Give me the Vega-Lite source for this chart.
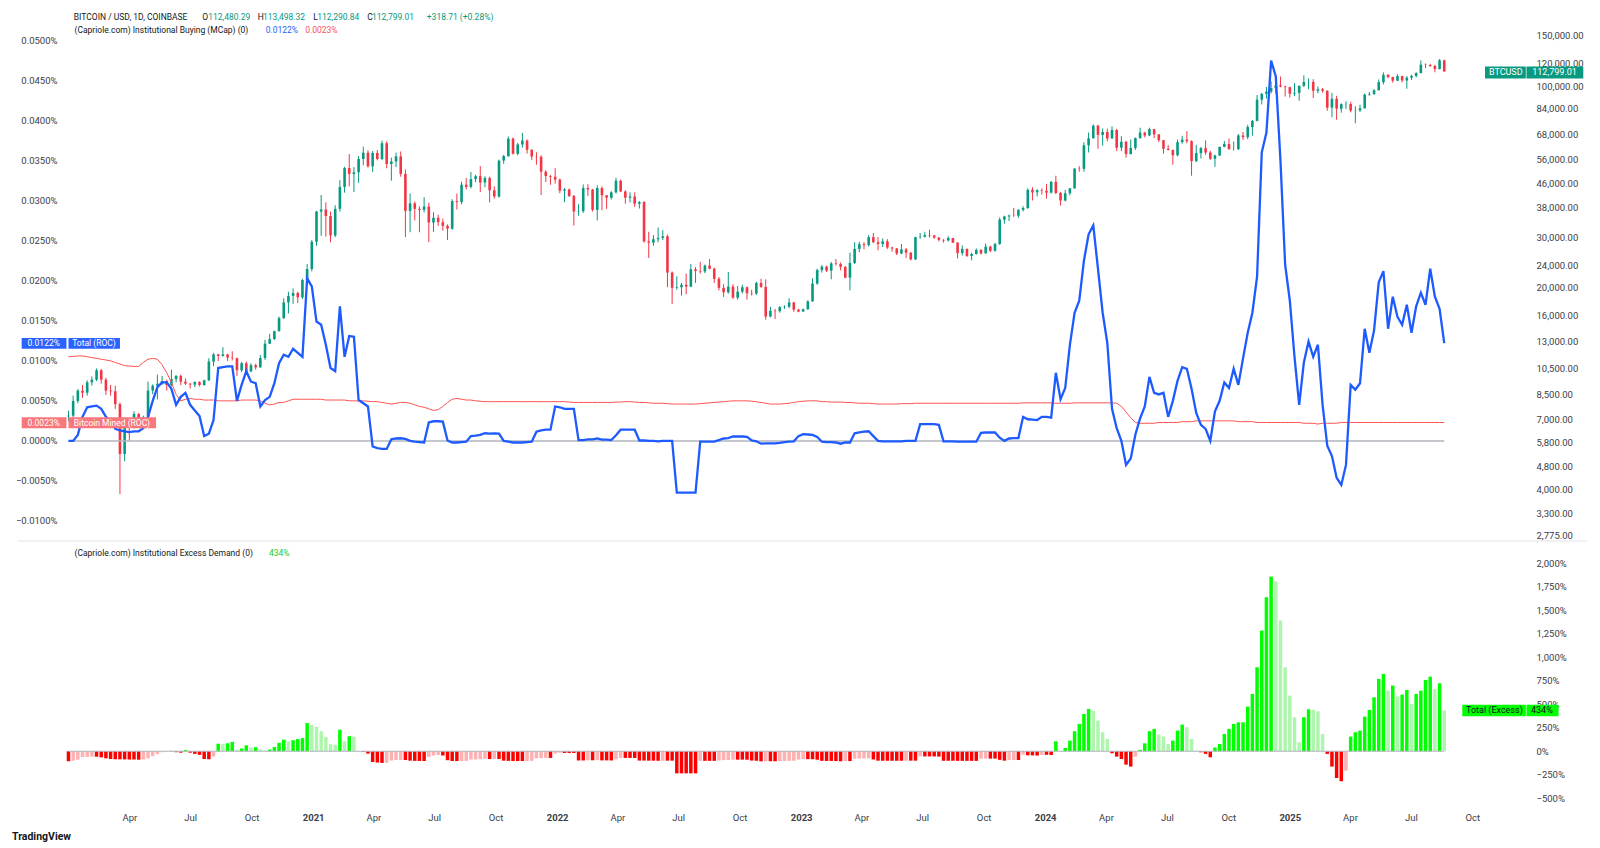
{
  "$schema": "https://vega.github.io/schema/vega-lite/v6.json",
  "background": "white",
  "padding": {"left": 12, "top": 7, "right": 7, "bottom": 4},
  "spacing": 0,
  "config": {
    "view": {"stroke": null},
    "font": "Roboto",
    "axis": {"labelFont": "Roboto", "labelFontSize": 9.5, "labelColor": "#3a3d45", "grid": false, "ticks": false, "domain": false},
    "axisRight": {"labelOverlap": false}
  },
  "title": {"text": "TradingView", "orient": "bottom", "anchor": "start", "fontSize": 10.5, "fontWeight": "bold", "color": "#131722", "offset": 10, "font": "Roboto"},
  "datasets": {
    "w": [
      {"d":"2020-01-01","o":7170,"h":7500,"l":6900,"c":7200,"t":0,"m":0.0105,"e":-106},
      {"d":"2020-01-08","o":7200,"h":8450,"l":7000,"c":8100,"t":0,"m":0.01055,"e":-100},
      {"d":"2020-01-15","o":8100,"h":8900,"l":7950,"c":8800,"t":0.00075,"m":0.0106,"e":-89},
      {"d":"2020-01-22","o":8800,"h":9200,"l":8300,"c":8650,"t":0.003,"m":0.0106,"e":-62},
      {"d":"2020-01-29","o":8650,"h":9550,"l":8450,"c":9400,"t":0.0042,"m":0.0105,"e":-60},
      {"d":"2020-02-05","o":9400,"h":9850,"l":9150,"c":9600,"t":0.0043,"m":0.0104,"e":-58},
      {"d":"2020-02-12","o":9600,"h":10500,"l":9500,"c":10350,"t":0.0044,"m":0.0103,"e":-58},
      {"d":"2020-02-19","o":10350,"h":10450,"l":9300,"c":9600,"t":0.004,"m":0.0102,"e":-65},
      {"d":"2020-02-26","o":9600,"h":9750,"l":8500,"c":8800,"t":0.003,"m":0.0101,"e":-75},
      {"d":"2020-03-04","o":8800,"h":9200,"l":8450,"c":8750,"t":0.0025,"m":0.01,"e":-82},
      {"d":"2020-03-11","o":8750,"h":9150,"l":7600,"c":7900,"t":0.0015,"m":0.0098,"e":-85},
      {"d":"2020-03-18","o":7900,"h":8000,"l":3850,"c":5300,"t":0.0013,"m":0.0096,"e":-86},
      {"d":"2020-03-25","o":5300,"h":6900,"l":5000,"c":6700,"t":0.0012,"m":0.0094,"e":-87},
      {"d":"2020-04-01","o":6700,"h":6950,"l":5900,"c":6650,"t":0.0011,"m":0.00935,"e":-88},
      {"d":"2020-04-08","o":6650,"h":7450,"l":6500,"c":7300,"t":0.0012,"m":0.0093,"e":-88},
      {"d":"2020-04-15","o":7300,"h":7350,"l":6600,"c":6650,"t":0.0012,"m":0.0093,"e":-90},
      {"d":"2020-04-22","o":6650,"h":7200,"l":6550,"c":7100,"t":0.0016,"m":0.0098,"e":-88},
      {"d":"2020-04-29","o":7100,"h":9450,"l":7050,"c":8800,"t":0.003,"m":0.0102,"e":-75},
      {"d":"2020-05-06","o":8800,"h":9250,"l":8550,"c":9150,"t":0.005,"m":0.0103,"e":-53},
      {"d":"2020-05-13","o":9150,"h":10000,"l":8200,"c":9300,"t":0.0067,"m":0.0102,"e":-30},
      {"d":"2020-05-20","o":9300,"h":9900,"l":9200,"c":9500,"t":0.0073,"m":0.0095,"e":-10},
      {"d":"2020-05-27","o":9500,"h":9600,"l":8800,"c":9200,"t":0.0073,"m":0.0085,"e":-3},
      {"d":"2020-06-03","o":9200,"h":10400,"l":9100,"c":9650,"t":0.0065,"m":0.0073,"e":5},
      {"d":"2020-06-10","o":9650,"h":9950,"l":9400,"c":9900,"t":0.0045,"m":0.0058,"e":-10},
      {"d":"2020-06-17","o":9900,"h":10000,"l":9200,"c":9450,"t":0.0055,"m":0.005,"e":-15},
      {"d":"2020-06-24","o":9450,"h":9700,"l":9200,"c":9300,"t":0.006,"m":0.0052,"e":14},
      {"d":"2020-07-01","o":9300,"h":9350,"l":8950,"c":9230,"t":0.0045,"m":0.0053,"e":-15},
      {"d":"2020-07-08","o":9230,"h":9450,"l":9050,"c":9430,"t":0.0038,"m":0.0052,"e":-28},
      {"d":"2020-07-15","o":9430,"h":9480,"l":9100,"c":9200,"t":0.0031,"m":0.0052,"e":-38},
      {"d":"2020-07-22","o":9200,"h":9600,"l":9150,"c":9550,"t":0.0006,"m":0.0051,"e":-82},
      {"d":"2020-07-29","o":9550,"h":11400,"l":9500,"c":11100,"t":0.0009,"m":0.0051,"e":-85},
      {"d":"2020-08-05","o":11100,"h":11900,"l":10700,"c":11750,"t":0.0026,"m":0.0051,"e":-55},
      {"d":"2020-08-12","o":11750,"h":11800,"l":11150,"c":11600,"t":0.0091,"m":0.005,"e":80},
      {"d":"2020-08-19","o":11600,"h":12450,"l":11550,"c":11750,"t":0.0092,"m":0.005,"e":78},
      {"d":"2020-08-26","o":11750,"h":11800,"l":11150,"c":11450,"t":0.0093,"m":0.005,"e":85},
      {"d":"2020-09-02","o":11450,"h":12050,"l":11200,"c":11400,"t":0.0093,"m":0.005,"e":100},
      {"d":"2020-09-09","o":11400,"h":11450,"l":9900,"c":10350,"t":0.005,"m":0.005,"e":14},
      {"d":"2020-09-16","o":10350,"h":11050,"l":10200,"c":10950,"t":0.007,"m":0.0051,"e":30},
      {"d":"2020-09-23","o":10950,"h":11100,"l":10150,"c":10250,"t":0.0087,"m":0.0051,"e":64},
      {"d":"2020-09-30","o":10250,"h":10950,"l":10200,"c":10780,"t":0.0074,"m":0.0051,"e":40},
      {"d":"2020-10-07","o":10780,"h":10900,"l":10400,"c":10600,"t":0.0072,"m":0.0051,"e":43},
      {"d":"2020-10-14","o":10600,"h":11700,"l":10550,"c":11420,"t":0.0043,"m":0.005,"e":20},
      {"d":"2020-10-21","o":11420,"h":13200,"l":11250,"c":12800,"t":0.0051,"m":0.0047,"e":8},
      {"d":"2020-10-28","o":12800,"h":13850,"l":12750,"c":13280,"t":0.0055,"m":0.0045,"e":18},
      {"d":"2020-11-04","o":13280,"h":14200,"l":13200,"c":14150,"t":0.0072,"m":0.0046,"e":45},
      {"d":"2020-11-11","o":14150,"h":15900,"l":14100,"c":15700,"t":0.0097,"m":0.0048,"e":90},
      {"d":"2020-11-18","o":15700,"h":18400,"l":15600,"c":17800,"t":0.01075,"m":0.0048,"e":124},
      {"d":"2020-11-25","o":17800,"h":19400,"l":16300,"c":18750,"t":0.0105,"m":0.005,"e":106},
      {"d":"2020-12-02","o":18750,"h":19900,"l":17600,"c":19200,"t":0.0115,"m":0.0052,"e":118},
      {"d":"2020-12-09","o":19200,"h":19400,"l":17700,"c":18550,"t":0.011,"m":0.0052,"e":130},
      {"d":"2020-12-16","o":18550,"h":21500,"l":18300,"c":21300,"t":0.0105,"m":0.0052,"e":140},
      {"d":"2020-12-23","o":21300,"h":24200,"l":21100,"c":23250,"t":0.0203,"m":0.0052,"e":300},
      {"d":"2020-12-30","o":23250,"h":29300,"l":22800,"c":28900,"t":0.0193,"m":0.0052,"e":280},
      {"d":"2021-01-06","o":28900,"h":37000,"l":28000,"c":36800,"t":0.0149,"m":0.0052,"e":260},
      {"d":"2021-01-13","o":36800,"h":42000,"l":30300,"c":37400,"t":0.0145,"m":0.0052,"e":213},
      {"d":"2021-01-20","o":37400,"h":39600,"l":30100,"c":35500,"t":0.012,"m":0.0051,"e":150},
      {"d":"2021-01-27","o":35500,"h":36800,"l":28800,"c":30400,"t":0.0091,"m":0.0051,"e":75},
      {"d":"2021-02-03","o":30400,"h":38700,"l":30000,"c":37600,"t":0.0087,"m":0.0051,"e":70},
      {"d":"2021-02-10","o":37600,"h":47300,"l":36800,"c":44800,"t":0.0168,"m":0.0051,"e":230},
      {"d":"2021-02-17","o":44800,"h":52600,"l":42800,"c":52100,"t":0.0105,"m":0.0051,"e":106},
      {"d":"2021-02-24","o":52100,"h":58300,"l":45000,"c":49700,"t":0.0131,"m":0.005,"e":160},
      {"d":"2021-03-03","o":49700,"h":52500,"l":43000,"c":50400,"t":0.013,"m":0.005,"e":155},
      {"d":"2021-03-10","o":50400,"h":57300,"l":46300,"c":56000,"t":0.0051,"m":0.005,"e":2},
      {"d":"2021-03-17","o":56000,"h":61800,"l":53300,"c":58900,"t":0.0047,"m":0.005,"e":-7},
      {"d":"2021-03-24","o":58900,"h":60000,"l":52300,"c":52800,"t":0.0043,"m":0.00495,"e":-25},
      {"d":"2021-03-31","o":52800,"h":59700,"l":50500,"c":58800,"t":-0.0007,"m":0.0049,"e":-114},
      {"d":"2021-04-07","o":58800,"h":60200,"l":55400,"c":56000,"t":-0.0009,"m":0.0049,"e":-120},
      {"d":"2021-04-14","o":56000,"h":64900,"l":55500,"c":63500,"t":-0.001,"m":0.0048,"e":-124},
      {"d":"2021-04-21","o":63500,"h":64500,"l":52000,"c":53800,"t":-0.001,"m":0.0047,"e":-122},
      {"d":"2021-04-28","o":53800,"h":56600,"l":47100,"c":54900,"t":0.0002,"m":0.0046,"e":-98},
      {"d":"2021-05-05","o":54900,"h":58900,"l":52500,"c":57200,"t":0.0003,"m":0.0047,"e":-93},
      {"d":"2021-05-12","o":57200,"h":59500,"l":48600,"c":49700,"t":0.00033,"m":0.0048,"e":-92},
      {"d":"2021-05-19","o":49700,"h":51500,"l":30000,"c":37000,"t":0.00025,"m":0.0048,"e":-93},
      {"d":"2021-05-26","o":37000,"h":42500,"l":31200,"c":39300,"t":0,"m":0.0047,"e":-100},
      {"d":"2021-06-02","o":39300,"h":39900,"l":34300,"c":37600,"t":-0.0001,"m":0.0045,"e":-102},
      {"d":"2021-06-09","o":37600,"h":38400,"l":31200,"c":37300,"t":-0.00015,"m":0.0043,"e":-103},
      {"d":"2021-06-16","o":37300,"h":41300,"l":36500,"c":38300,"t":-0.0002,"m":0.0042,"e":-104},
      {"d":"2021-06-23","o":38300,"h":39500,"l":28800,"c":33700,"t":0.0023,"m":0.004,"e":-60},
      {"d":"2021-06-30","o":33700,"h":36600,"l":31300,"c":35000,"t":0.00245,"m":0.0038,"e":-45},
      {"d":"2021-07-07","o":35000,"h":35900,"l":32800,"c":33800,"t":0.00245,"m":0.0039,"e":-40},
      {"d":"2021-07-14","o":33800,"h":34800,"l":31600,"c":32800,"t":0.0024,"m":0.0043,"e":-45},
      {"d":"2021-07-21","o":32800,"h":33200,"l":29300,"c":32100,"t":0.00005,"m":0.0048,"e":-95},
      {"d":"2021-07-28","o":32100,"h":40600,"l":31800,"c":40000,"t":-0.0002,"m":0.0052,"e":-104},
      {"d":"2021-08-04","o":40000,"h":42500,"l":37400,"c":39700,"t":-0.0002,"m":0.0053,"e":-104},
      {"d":"2021-08-11","o":39700,"h":46700,"l":39000,"c":45600,"t":-0.00015,"m":0.0052,"e":-103},
      {"d":"2021-08-18","o":45600,"h":48100,"l":43900,"c":44800,"t":-0.0001,"m":0.0051,"e":-102},
      {"d":"2021-08-25","o":44800,"h":50500,"l":44300,"c":47700,"t":0.0006,"m":0.0051,"e":-88},
      {"d":"2021-09-01","o":47700,"h":49400,"l":46500,"c":48800,"t":0.00065,"m":0.005,"e":-87},
      {"d":"2021-09-08","o":48800,"h":52900,"l":43000,"c":46400,"t":0.00075,"m":0.00495,"e":-85},
      {"d":"2021-09-15","o":46400,"h":48800,"l":44700,"c":48100,"t":0.00095,"m":0.0049,"e":-80},
      {"d":"2021-09-22","o":48100,"h":48600,"l":39600,"c":43600,"t":0.0009,"m":0.0049,"e":-82},
      {"d":"2021-09-29","o":43600,"h":45000,"l":40800,"c":41500,"t":0.00095,"m":0.0049,"e":-81},
      {"d":"2021-10-06","o":41500,"h":55700,"l":41100,"c":55300,"t":0.0009,"m":0.0049,"e":-82},
      {"d":"2021-10-13","o":55300,"h":57900,"l":53900,"c":57300,"t":0,"m":0.0049,"e":-100},
      {"d":"2021-10-20","o":57300,"h":67000,"l":57000,"c":65900,"t":-0.0001,"m":0.0049,"e":-102},
      {"d":"2021-10-27","o":65900,"h":66500,"l":58000,"c":58400,"t":-0.0002,"m":0.0049,"e":-104},
      {"d":"2021-11-03","o":58400,"h":63700,"l":57700,"c":62900,"t":-0.0002,"m":0.0049,"e":-104},
      {"d":"2021-11-10","o":62900,"h":69000,"l":61300,"c":64900,"t":-0.0002,"m":0.0049,"e":-104},
      {"d":"2021-11-17","o":64900,"h":65500,"l":58500,"c":60300,"t":-0.00015,"m":0.0049,"e":-103},
      {"d":"2021-11-24","o":60300,"h":60500,"l":55600,"c":57100,"t":-0.0001,"m":0.0049,"e":-102},
      {"d":"2021-12-01","o":57100,"h":59100,"l":53500,"c":57000,"t":0.00115,"m":0.0049,"e":-76},
      {"d":"2021-12-08","o":57000,"h":57700,"l":42000,"c":50600,"t":0.0013,"m":0.0049,"e":-73},
      {"d":"2021-12-15","o":50600,"h":51200,"l":46600,"c":48900,"t":0.0014,"m":0.0049,"e":-71},
      {"d":"2021-12-22","o":48900,"h":49300,"l":45600,"c":48600,"t":0.0014,"m":0.0049,"e":-71},
      {"d":"2021-12-29","o":48600,"h":52000,"l":46000,"c":47500,"t":0.0043,"m":0.0049,"e":-25},
      {"d":"2022-01-05","o":47500,"h":47900,"l":42600,"c":43500,"t":0.0042,"m":0.0049,"e":-15},
      {"d":"2022-01-12","o":43500,"h":44400,"l":39700,"c":43900,"t":0.004,"m":0.0049,"e":-18},
      {"d":"2022-01-19","o":43900,"h":44200,"l":41300,"c":41700,"t":0.004,"m":0.00485,"e":-18},
      {"d":"2022-01-26","o":41700,"h":42000,"l":32900,"c":36800,"t":0.004,"m":0.0048,"e":-18},
      {"d":"2022-02-02","o":36800,"h":39000,"l":35600,"c":36900,"t":0.0001,"m":0.0048,"e":-98},
      {"d":"2022-02-09","o":36900,"h":45700,"l":36400,"c":44400,"t":0.0001,"m":0.0048,"e":-98},
      {"d":"2022-02-16","o":44400,"h":45800,"l":41700,"c":43900,"t":0.0002,"m":0.0048,"e":-96},
      {"d":"2022-02-23","o":43900,"h":44100,"l":36800,"c":37300,"t":0.0002,"m":0.0048,"e":-96},
      {"d":"2022-03-02","o":37300,"h":45400,"l":34300,"c":44400,"t":0.0003,"m":0.0048,"e":-94},
      {"d":"2022-03-09","o":44400,"h":45000,"l":37200,"c":41900,"t":0.00015,"m":0.0048,"e":-97},
      {"d":"2022-03-16","o":41900,"h":42000,"l":37600,"c":41100,"t":0.00015,"m":0.0048,"e":-97},
      {"d":"2022-03-23","o":41100,"h":43300,"l":40500,"c":42900,"t":0.0001,"m":0.0048,"e":-98},
      {"d":"2022-03-30","o":42900,"h":48200,"l":42500,"c":47100,"t":0.0007,"m":0.00485,"e":-86},
      {"d":"2022-04-06","o":47100,"h":47500,"l":43000,"c":43200,"t":0.0014,"m":0.00485,"e":-71},
      {"d":"2022-04-13","o":43200,"h":43600,"l":39200,"c":41100,"t":0.0014,"m":0.0049,"e":-71},
      {"d":"2022-04-20","o":41100,"h":42900,"l":39600,"c":41500,"t":0.0014,"m":0.0049,"e":-71},
      {"d":"2022-04-27","o":41500,"h":42900,"l":38200,"c":39200,"t":0.0014,"m":0.00485,"e":-71},
      {"d":"2022-05-04","o":39200,"h":40000,"l":37700,"c":39700,"t":0.00005,"m":0.0048,"e":-99},
      {"d":"2022-05-11","o":39700,"h":40000,"l":28700,"c":29000,"t":0.00005,"m":0.0048,"e":-99},
      {"d":"2022-05-18","o":29000,"h":31300,"l":25400,"c":28700,"t":0,"m":0.00475,"e":-100},
      {"d":"2022-05-25","o":28700,"h":30500,"l":28000,"c":29500,"t":0,"m":0.0047,"e":-100},
      {"d":"2022-06-01","o":29500,"h":32400,"l":28800,"c":29800,"t":-0.00005,"m":0.0047,"e":-101},
      {"d":"2022-06-08","o":29800,"h":31700,"l":29300,"c":30200,"t":0,"m":0.0047,"e":-100},
      {"d":"2022-06-15","o":30200,"h":30600,"l":20100,"c":22600,"t":0,"m":0.00465,"e":-100},
      {"d":"2022-06-22","o":22600,"h":22800,"l":17600,"c":20000,"t":0,"m":0.0046,"e":-100},
      {"d":"2022-06-29","o":20000,"h":21900,"l":19700,"c":20100,"t":-0.00645,"m":0.0046,"e":-235},
      {"d":"2022-07-06","o":20100,"h":20800,"l":18800,"c":20500,"t":-0.00645,"m":0.0046,"e":-235},
      {"d":"2022-07-13","o":20500,"h":22400,"l":19000,"c":20200,"t":-0.00645,"m":0.0046,"e":-235},
      {"d":"2022-07-20","o":20200,"h":24200,"l":20100,"c":23200,"t":-0.00645,"m":0.0046,"e":-235},
      {"d":"2022-07-27","o":23200,"h":23600,"l":20800,"c":22900,"t":-0.00645,"m":0.0046,"e":-235},
      {"d":"2022-08-03","o":22900,"h":24600,"l":22400,"c":22800,"t":-0.0001,"m":0.00465,"e":-102},
      {"d":"2022-08-10","o":22800,"h":24100,"l":22500,"c":23900,"t":-0.0001,"m":0.0047,"e":-102},
      {"d":"2022-08-17","o":23900,"h":25200,"l":23200,"c":23300,"t":-0.0001,"m":0.00475,"e":-102},
      {"d":"2022-08-24","o":23300,"h":23500,"l":20800,"c":21500,"t":-0.0001,"m":0.0048,"e":-102},
      {"d":"2022-08-31","o":21500,"h":21800,"l":19600,"c":20000,"t":0.0001,"m":0.00485,"e":-98},
      {"d":"2022-09-07","o":20000,"h":20600,"l":18600,"c":19300,"t":0.0003,"m":0.0049,"e":-94},
      {"d":"2022-09-14","o":19300,"h":22700,"l":19100,"c":20200,"t":0.00035,"m":0.00495,"e":-93},
      {"d":"2022-09-21","o":20200,"h":20600,"l":18300,"c":18500,"t":0.00055,"m":0.005,"e":-89},
      {"d":"2022-09-28","o":18500,"h":20300,"l":18200,"c":19400,"t":0.00055,"m":0.005,"e":-89},
      {"d":"2022-10-05","o":19400,"h":20500,"l":19100,"c":20100,"t":0.00055,"m":0.005,"e":-89},
      {"d":"2022-10-12","o":20100,"h":20200,"l":18200,"c":19150,"t":0.0005,"m":0.005,"e":-90},
      {"d":"2022-10-19","o":19150,"h":19700,"l":18800,"c":19100,"t":0.00005,"m":0.00495,"e":-99},
      {"d":"2022-10-26","o":19100,"h":21000,"l":18900,"c":20800,"t":-0.00005,"m":0.0049,"e":-101},
      {"d":"2022-11-02","o":20800,"h":21500,"l":20000,"c":20150,"t":-0.00035,"m":0.0048,"e":-107},
      {"d":"2022-11-09","o":20150,"h":21400,"l":15500,"c":15900,"t":-0.0003,"m":0.0047,"e":-106},
      {"d":"2022-11-16","o":15900,"h":17200,"l":15800,"c":16650,"t":-0.0003,"m":0.0046,"e":-106},
      {"d":"2022-11-23","o":16650,"h":16900,"l":15600,"c":16600,"t":-0.0003,"m":0.0046,"e":-106},
      {"d":"2022-11-30","o":16600,"h":17300,"l":16400,"c":17150,"t":-0.00025,"m":0.0046,"e":-105},
      {"d":"2022-12-07","o":17150,"h":17400,"l":16900,"c":17200,"t":-0.00015,"m":0.00465,"e":-103},
      {"d":"2022-12-14","o":17200,"h":18400,"l":17000,"c":17800,"t":-0.0001,"m":0.0047,"e":-102},
      {"d":"2022-12-21","o":17800,"h":17900,"l":16500,"c":16800,"t":-0.00005,"m":0.0048,"e":-101},
      {"d":"2022-12-28","o":16800,"h":16900,"l":16450,"c":16550,"t":0.0006,"m":0.0049,"e":-88},
      {"d":"2023-01-04","o":16550,"h":16950,"l":16500,"c":16850,"t":0.00085,"m":0.00495,"e":-83},
      {"d":"2023-01-11","o":16850,"h":18100,"l":16800,"c":17950,"t":0.0008,"m":0.005,"e":-84},
      {"d":"2023-01-18","o":17950,"h":21600,"l":17900,"c":20700,"t":0.00075,"m":0.005,"e":-85},
      {"d":"2023-01-25","o":20700,"h":23300,"l":20500,"c":23050,"t":0.0005,"m":0.005,"e":-90},
      {"d":"2023-02-01","o":23050,"h":24000,"l":22600,"c":23700,"t":-0.0001,"m":0.0049,"e":-102},
      {"d":"2023-02-08","o":23700,"h":23900,"l":22700,"c":22950,"t":-0.00015,"m":0.0049,"e":-103},
      {"d":"2023-02-15","o":22950,"h":24600,"l":21400,"c":24300,"t":-0.00015,"m":0.00485,"e":-103},
      {"d":"2023-02-22","o":24300,"h":25200,"l":23900,"c":24200,"t":-0.0002,"m":0.00485,"e":-104},
      {"d":"2023-03-01","o":24200,"h":24500,"l":23000,"c":23650,"t":-0.00035,"m":0.00485,"e":-107},
      {"d":"2023-03-08","o":23650,"h":23800,"l":21600,"c":21700,"t":-0.0002,"m":0.0048,"e":-104},
      {"d":"2023-03-15","o":21700,"h":26500,"l":19600,"c":24400,"t":-0.0002,"m":0.0048,"e":-104},
      {"d":"2023-03-22","o":24400,"h":28800,"l":24200,"c":27300,"t":0.00095,"m":0.00475,"e":-80},
      {"d":"2023-03-29","o":27300,"h":28900,"l":26600,"c":28350,"t":0.00105,"m":0.0047,"e":-78},
      {"d":"2023-04-05","o":28350,"h":28800,"l":27200,"c":28150,"t":0.00115,"m":0.0047,"e":-76},
      {"d":"2023-04-12","o":28150,"h":30500,"l":27800,"c":30000,"t":0.0012,"m":0.0047,"e":-75},
      {"d":"2023-04-19","o":30000,"h":31000,"l":28600,"c":28800,"t":0.0006,"m":0.00465,"e":-87},
      {"d":"2023-04-26","o":28800,"h":30000,"l":27000,"c":28400,"t":0,"m":0.0046,"e":-100},
      {"d":"2023-05-03","o":28400,"h":29700,"l":27700,"c":29000,"t":-0.00005,"m":0.0046,"e":-101},
      {"d":"2023-05-10","o":29000,"h":29500,"l":27300,"c":27600,"t":-0.00005,"m":0.0046,"e":-101},
      {"d":"2023-05-17","o":27600,"h":27800,"l":26700,"c":27400,"t":-0.00005,"m":0.0046,"e":-101},
      {"d":"2023-05-24","o":27400,"h":27500,"l":26000,"c":26300,"t":-0.00005,"m":0.0046,"e":-101},
      {"d":"2023-05-31","o":26300,"h":28400,"l":26200,"c":27200,"t":-0.00005,"m":0.00465,"e":-101},
      {"d":"2023-06-07","o":27200,"h":27500,"l":25400,"c":26500,"t":0,"m":0.00465,"e":-100},
      {"d":"2023-06-14","o":26500,"h":26600,"l":24900,"c":25100,"t":0,"m":0.00465,"e":-100},
      {"d":"2023-06-21","o":25100,"h":30100,"l":25000,"c":30000,"t":0,"m":0.0047,"e":-100},
      {"d":"2023-06-28","o":30000,"h":31000,"l":29600,"c":30100,"t":0.0021,"m":0.0047,"e":-55},
      {"d":"2023-07-05","o":30100,"h":31300,"l":29900,"c":30500,"t":0.0021,"m":0.0047,"e":-55},
      {"d":"2023-07-12","o":30500,"h":31800,"l":29900,"c":30400,"t":0.0021,"m":0.0047,"e":-55},
      {"d":"2023-07-19","o":30400,"h":30500,"l":29600,"c":29900,"t":0.0021,"m":0.0047,"e":-55},
      {"d":"2023-07-26","o":29900,"h":30000,"l":29000,"c":29350,"t":0.002,"m":0.0047,"e":-57},
      {"d":"2023-08-02","o":29350,"h":29500,"l":28700,"c":29200,"t":-0.00005,"m":0.0047,"e":-101},
      {"d":"2023-08-09","o":29200,"h":30200,"l":29000,"c":29800,"t":-0.00005,"m":0.0047,"e":-101},
      {"d":"2023-08-16","o":29800,"h":29800,"l":28600,"c":28700,"t":-0.00005,"m":0.0047,"e":-101},
      {"d":"2023-08-23","o":28700,"h":28800,"l":25300,"c":26400,"t":-0.0001,"m":0.0047,"e":-102},
      {"d":"2023-08-30","o":26400,"h":28100,"l":25900,"c":27300,"t":-0.0001,"m":0.0047,"e":-102},
      {"d":"2023-09-06","o":27300,"h":27400,"l":25600,"c":25800,"t":-0.0001,"m":0.0047,"e":-102},
      {"d":"2023-09-13","o":25800,"h":26500,"l":24900,"c":26200,"t":-0.0001,"m":0.0047,"e":-102},
      {"d":"2023-09-20","o":26200,"h":27400,"l":26100,"c":27100,"t":-0.0001,"m":0.0047,"e":-102},
      {"d":"2023-09-27","o":27100,"h":27200,"l":26100,"c":26350,"t":0.001,"m":0.0047,"e":-79},
      {"d":"2023-10-04","o":26350,"h":28500,"l":26300,"c":27800,"t":0.00105,"m":0.0047,"e":-78},
      {"d":"2023-10-11","o":27800,"h":28000,"l":26600,"c":26900,"t":0.00105,"m":0.0047,"e":-78},
      {"d":"2023-10-18","o":26900,"h":28700,"l":26700,"c":28400,"t":0.00105,"m":0.0047,"e":-78},
      {"d":"2023-10-25","o":28400,"h":35100,"l":28200,"c":34500,"t":0.0004,"m":0.0047,"e":-91},
      {"d":"2023-11-01","o":34500,"h":35600,"l":33400,"c":35400,"t":0,"m":0.0047,"e":-100},
      {"d":"2023-11-08","o":35400,"h":35900,"l":34100,"c":35650,"t":0.0003,"m":0.0047,"e":-94},
      {"d":"2023-11-15","o":35650,"h":37900,"l":35300,"c":35600,"t":0.00035,"m":0.0047,"e":-93},
      {"d":"2023-11-22","o":35600,"h":37500,"l":35000,"c":37300,"t":0.00035,"m":0.0047,"e":-93},
      {"d":"2023-11-29","o":37300,"h":38400,"l":36800,"c":37850,"t":0.003,"m":0.00475,"e":-37},
      {"d":"2023-12-06","o":37850,"h":44300,"l":37600,"c":43800,"t":0.0027,"m":0.00475,"e":-43},
      {"d":"2023-12-13","o":43800,"h":44700,"l":40200,"c":42900,"t":0.00265,"m":0.00475,"e":-44},
      {"d":"2023-12-20","o":42900,"h":44000,"l":41500,"c":43650,"t":0.0026,"m":0.00475,"e":-46},
      {"d":"2023-12-27","o":43650,"h":44300,"l":42100,"c":43450,"t":0.003,"m":0.00475,"e":-38},
      {"d":"2024-01-03","o":43450,"h":45900,"l":40800,"c":42800,"t":0.003,"m":0.00475,"e":-38},
      {"d":"2024-01-10","o":42800,"h":47000,"l":42500,"c":46650,"t":0.0029,"m":0.00475,"e":-40},
      {"d":"2024-01-17","o":46650,"h":49000,"l":42300,"c":42700,"t":0.0085,"m":0.0047,"e":106},
      {"d":"2024-01-24","o":42700,"h":43100,"l":38600,"c":40200,"t":0.0052,"m":0.0047,"e":5},
      {"d":"2024-01-31","o":40200,"h":43800,"l":39900,"c":42600,"t":0.0066,"m":0.0047,"e":35},
      {"d":"2024-02-07","o":42600,"h":44400,"l":41900,"c":44300,"t":0.012,"m":0.0047,"e":113},
      {"d":"2024-02-14","o":44300,"h":52000,"l":44200,"c":51900,"t":0.016,"m":0.00475,"e":213},
      {"d":"2024-02-21","o":51900,"h":52900,"l":50600,"c":51800,"t":0.0175,"m":0.00475,"e":291},
      {"d":"2024-02-28","o":51800,"h":64000,"l":50600,"c":62500,"t":0.0225,"m":0.00475,"e":397},
      {"d":"2024-03-06","o":62500,"h":69200,"l":59000,"c":66100,"t":0.0258,"m":0.00475,"e":450},
      {"d":"2024-03-13","o":66100,"h":73800,"l":66000,"c":73100,"t":0.0269,"m":0.00475,"e":433},
      {"d":"2024-03-20","o":73100,"h":73600,"l":60800,"c":67900,"t":0.0215,"m":0.00475,"e":326},
      {"d":"2024-03-27","o":67900,"h":71500,"l":62300,"c":69500,"t":0.016,"m":0.00475,"e":202},
      {"d":"2024-04-03","o":69500,"h":71400,"l":64500,"c":66000,"t":0.0122,"m":0.00475,"e":131},
      {"d":"2024-04-10","o":66000,"h":72700,"l":65900,"c":70600,"t":0.004,"m":0.00475,"e":-21},
      {"d":"2024-04-17","o":70600,"h":71200,"l":59700,"c":61300,"t":0.0016,"m":0.0047,"e":-57},
      {"d":"2024-04-24","o":61300,"h":67200,"l":59600,"c":64300,"t":0,"m":0.0043,"e":-82},
      {"d":"2024-05-01","o":64300,"h":64700,"l":56600,"c":58300,"t":-0.003,"m":0.0036,"e":-142},
      {"d":"2024-05-08","o":58300,"h":65400,"l":58100,"c":61200,"t":-0.0022,"m":0.0029,"e":-163},
      {"d":"2024-05-15","o":61200,"h":66500,"l":60200,"c":66200,"t":0.0008,"m":0.0023,"e":-57},
      {"d":"2024-05-22","o":66200,"h":71900,"l":65800,"c":69200,"t":0.0028,"m":0.0022,"e":15},
      {"d":"2024-05-29","o":69200,"h":69600,"l":66600,"c":67600,"t":0.0043,"m":0.0022,"e":85},
      {"d":"2024-06-05","o":67600,"h":71900,"l":67200,"c":71100,"t":0.008,"m":0.0022,"e":213},
      {"d":"2024-06-12","o":71100,"h":71300,"l":66100,"c":68200,"t":0.006,"m":0.0022,"e":238},
      {"d":"2024-06-19","o":68200,"h":68400,"l":64100,"c":65100,"t":0.0058,"m":0.0023,"e":177},
      {"d":"2024-06-26","o":65100,"h":65200,"l":58400,"c":60800,"t":0.006,"m":0.0023,"e":156},
      {"d":"2024-07-03","o":60800,"h":62700,"l":59900,"c":60200,"t":0.003,"m":0.0023,"e":78},
      {"d":"2024-07-10","o":60200,"h":60400,"l":53500,"c":57700,"t":0.005,"m":0.0023,"e":113},
      {"d":"2024-07-17","o":57700,"h":65400,"l":57200,"c":64100,"t":0.0075,"m":0.0023,"e":220},
      {"d":"2024-07-24","o":64100,"h":67400,"l":63300,"c":65400,"t":0.0092,"m":0.0024,"e":284},
      {"d":"2024-07-31","o":65400,"h":70000,"l":63500,"c":64600,"t":0.009,"m":0.0024,"e":255},
      {"d":"2024-08-07","o":64600,"h":65000,"l":49000,"c":55100,"t":0.0065,"m":0.0024,"e":131},
      {"d":"2024-08-14","o":55100,"h":62700,"l":54600,"c":58700,"t":0.0035,"m":0.0025,"e":7},
      {"d":"2024-08-21","o":58700,"h":61700,"l":56200,"c":61100,"t":0.002,"m":0.0025,"e":-11},
      {"d":"2024-08-28","o":61100,"h":65000,"l":57900,"c":59000,"t":0.0015,"m":0.0025,"e":-28},
      {"d":"2024-09-04","o":59000,"h":59800,"l":55600,"c":56100,"t":0,"m":0.0025,"e":-64},
      {"d":"2024-09-11","o":56100,"h":58000,"l":52600,"c":57600,"t":0.0037,"m":0.0025,"e":40},
      {"d":"2024-09-18","o":57600,"h":61800,"l":57400,"c":61700,"t":0.005,"m":0.0025,"e":78},
      {"d":"2024-09-25","o":61700,"h":64700,"l":61500,"c":63100,"t":0.0073,"m":0.0025,"e":184},
      {"d":"2024-10-02","o":63100,"h":66000,"l":60300,"c":60600,"t":0.0066,"m":0.0025,"e":238},
      {"d":"2024-10-09","o":60600,"h":64400,"l":59900,"c":60600,"t":0.009,"m":0.0025,"e":291},
      {"d":"2024-10-16","o":60600,"h":68400,"l":60200,"c":67600,"t":0.007,"m":0.0024,"e":308},
      {"d":"2024-10-23","o":67600,"h":69500,"l":65300,"c":66700,"t":0.0103,"m":0.0024,"e":308},
      {"d":"2024-10-30","o":66700,"h":73600,"l":65600,"c":72300,"t":0.0135,"m":0.0024,"e":475},
      {"d":"2024-11-06","o":72300,"h":76500,"l":67500,"c":75900,"t":0.016,"m":0.0024,"e":610},
      {"d":"2024-11-13","o":75900,"h":93400,"l":75700,"c":90000,"t":0.0205,"m":0.0023,"e":894},
      {"d":"2024-11-20","o":90000,"h":94900,"l":86600,"c":94300,"t":0.036,"m":0.0023,"e":1284},
      {"d":"2024-11-27","o":94300,"h":99600,"l":90800,"c":96000,"t":0.0385,"m":0.0023,"e":1638},
      {"d":"2024-12-04","o":96000,"h":104000,"l":94600,"c":98700,"t":0.0475,"m":0.0023,"e":1858},
      {"d":"2024-12-11","o":98700,"h":102500,"l":94300,"c":101000,"t":0.0455,"m":0.0023,"e":1808},
      {"d":"2024-12-18","o":101000,"h":108300,"l":99300,"c":100000,"t":0.035,"m":0.0023,"e":1390},
      {"d":"2024-12-25","o":100000,"h":100500,"l":92200,"c":99400,"t":0.022,"m":0.0023,"e":894},
      {"d":"2025-01-01","o":99400,"h":99900,"l":91500,"c":94400,"t":0.0175,"m":0.0023,"e":592},
      {"d":"2025-01-08","o":94400,"h":102700,"l":92500,"c":95000,"t":0.0105,"m":0.0023,"e":362},
      {"d":"2025-01-15","o":95000,"h":100700,"l":89200,"c":100500,"t":0.0045,"m":0.0023,"e":96},
      {"d":"2025-01-22","o":100500,"h":109300,"l":99500,"c":103700,"t":0.0098,"m":0.0022,"e":362},
      {"d":"2025-01-29","o":103700,"h":106500,"l":97800,"c":103700,"t":0.0124,"m":0.0022,"e":447},
      {"d":"2025-02-05","o":103700,"h":106000,"l":91200,"c":96600,"t":0.0105,"m":0.0022,"e":440},
      {"d":"2025-02-12","o":96600,"h":100000,"l":94800,"c":97800,"t":0.012,"m":0.0021,"e":425},
      {"d":"2025-02-19","o":97800,"h":98800,"l":95200,"c":96600,"t":0.0045,"m":0.0022,"e":184},
      {"d":"2025-02-26","o":96600,"h":96900,"l":82300,"c":84400,"t":-0.0006,"m":0.0022,"e":-28},
      {"d":"2025-03-05","o":84400,"h":95000,"l":78200,"c":90600,"t":-0.0019,"m":0.0022,"e":-163},
      {"d":"2025-03-12","o":90600,"h":92800,"l":76600,"c":83700,"t":-0.0046,"m":0.0022,"e":-284},
      {"d":"2025-03-19","o":83700,"h":87400,"l":81100,"c":86800,"t":-0.0055,"m":0.0023,"e":-319},
      {"d":"2025-03-26","o":86800,"h":88800,"l":83600,"c":86900,"t":-0.003,"m":0.0023,"e":-206},
      {"d":"2025-04-02","o":86900,"h":88500,"l":81300,"c":82500,"t":0.007,"m":0.0023,"e":156},
      {"d":"2025-04-09","o":82500,"h":85400,"l":74500,"c":82600,"t":0.0064,"m":0.0023,"e":202},
      {"d":"2025-04-16","o":82600,"h":86400,"l":81600,"c":84000,"t":0.0072,"m":0.0023,"e":220},
      {"d":"2025-04-23","o":84000,"h":94500,"l":83800,"c":93700,"t":0.014,"m":0.0023,"e":369},
      {"d":"2025-04-30","o":93700,"h":95700,"l":92900,"c":94200,"t":0.011,"m":0.0023,"e":440},
      {"d":"2025-05-07","o":94200,"h":97800,"l":93400,"c":97000,"t":0.0138,"m":0.0023,"e":574},
      {"d":"2025-05-14","o":97000,"h":105700,"l":96900,"c":103500,"t":0.0198,"m":0.0023,"e":770},
      {"d":"2025-05-21","o":103500,"h":111900,"l":101600,"c":109700,"t":0.0212,"m":0.0023,"e":823},
      {"d":"2025-05-28","o":109700,"h":110400,"l":106800,"c":107800,"t":0.014,"m":0.0023,"e":645},
      {"d":"2025-06-04","o":107800,"h":108000,"l":103100,"c":104700,"t":0.018,"m":0.0023,"e":699},
      {"d":"2025-06-11","o":104700,"h":110300,"l":104400,"c":108600,"t":0.0155,"m":0.0023,"e":582},
      {"d":"2025-06-18","o":108600,"h":108900,"l":103400,"c":104900,"t":0.0145,"m":0.0023,"e":603},
      {"d":"2025-06-25","o":104900,"h":108600,"l":98200,"c":107300,"t":0.017,"m":0.0023,"e":652},
      {"d":"2025-07-02","o":107300,"h":109800,"l":105300,"c":108800,"t":0.0135,"m":0.0023,"e":504},
      {"d":"2025-07-09","o":108800,"h":112000,"l":107500,"c":111300,"t":0.0168,"m":0.0023,"e":610},
      {"d":"2025-07-16","o":111300,"h":123200,"l":111000,"c":119000,"t":0.0185,"m":0.0023,"e":645},
      {"d":"2025-07-23","o":119000,"h":120200,"l":115800,"c":118700,"t":0.017,"m":0.0023,"e":759},
      {"d":"2025-07-30","o":118700,"h":119800,"l":116900,"c":117800,"t":0.0215,"m":0.0023,"e":794},
      {"d":"2025-08-06","o":117800,"h":118900,"l":112000,"c":115000,"t":0.018,"m":0.0023,"e":663},
      {"d":"2025-08-13","o":115000,"h":124500,"l":114500,"c":123300,"t":0.0165,"m":0.0023,"e":723},
      {"d":"2025-08-20","o":123300,"h":123800,"l":112300,"c":112799.01,"t":0.0122,"m":0.0023,"e":434}
    ],
    "zero": [
      {"d":"2020-01-01","z":0},
      {"d":"2025-08-20","z":0}
    ],
    "hdr": [
      {"d":"2020-01-09","v":0.05288,"s":"BITCOIN / USD, 1D, COINBASE","k":"n"},
      {"d":"2020-07-19","v":0.05288,"s":"O","k":"n"},
      {"d":"2020-07-28","v":0.05288,"s":"112,480.29","k":"g"},
      {"d":"2020-10-10","v":0.05288,"s":"H","k":"n"},
      {"d":"2020-10-18","v":0.05288,"s":"113,498.32","k":"g"},
      {"d":"2021-01-01","v":0.05288,"s":"L","k":"n"},
      {"d":"2021-01-07","v":0.05288,"s":"112,290.84","k":"g"},
      {"d":"2021-03-23","v":0.05288,"s":"C","k":"n"},
      {"d":"2021-03-30","v":0.05288,"s":"112,799.01","k":"g"},
      {"d":"2021-06-20","v":0.05288,"s":"+318.71 (+0.28%)","k":"g"},
      {"d":"2020-01-10","v":0.05129,"s":"(Capriole.com) Institutional Buying (MCap) (0)","k":"n"},
      {"d":"2020-10-22","v":0.05129,"s":"0.0122%","k":"b"},
      {"d":"2020-12-20","v":0.05129,"s":"0.0023%","k":"r"}
    ],
    "boxL": [
      {"d":"2019-10-23","d2":"2019-12-29","lo":0.0115,"hi":0.01284,"k":"b"},
      {"d":"2020-01-01","d2":"2020-03-18","lo":0.0115,"hi":0.01284,"k":"b"},
      {"d":"2019-10-23","d2":"2019-12-29","lo":0.00159,"hi":0.00296,"k":"r"},
      {"d":"2020-01-01","d2":"2020-05-11","lo":0.00159,"hi":0.00296,"k":"r"}
    ],
    "tagL": [
      {"d":"2019-11-25","v":0.01217,"s":"0.0122%"},
      {"d":"2020-02-08","v":0.01217,"s":"Total (ROC)"},
      {"d":"2019-11-25","v":0.00228,"s":"0.0023%"},
      {"d":"2020-03-06","v":0.00228,"s":"Bitcoin Mined (ROC)"}
    ],
    "boxR": [
      {"d":"2025-10-20","d2":"2025-12-20","lo":106620,"hi":117360},
      {"d":"2025-12-21","d2":"2026-03-16","lo":106620,"hi":117360}
    ],
    "tagR": [
      {"d":"2025-11-20","p":111870,"s":"BTCUSD"},
      {"d":"2026-02-01","p":111870,"s":"112,799.01"}
    ],
    "hdr2": [
      {"d":"2020-01-10","e":2110,"s":"(Capriole.com) Institutional Excess Demand (0)","k":"n"},
      {"d":"2020-10-27","e":2110,"s":"434%","k":"g"}
    ],
    "boxB": [
      {"d":"2025-09-16","d2":"2025-12-20","lo":372,"hi":496},
      {"d":"2025-12-21","d2":"2026-02-07","lo":372,"hi":496}
    ],
    "tagB": [
      {"d":"2025-11-03","e":434,"s":"Total (Excess)"},
      {"d":"2026-01-13","e":434,"s":"434%"}
    ],
    "sep": [
      {"d":"2019-10-17","d2":"2026-03-22","y":2237}
    ]
  },
  "vconcat": [
    {
      "width": 1468,
      "height": 530,
      "encoding": {
        "x": {
          "field": "d",
          "type": "temporal",
          "scale": {"domain": [{"year": 2019, "month": 12, "date": 29, "hours": 19, "utc": true}, {"year": 2025, "month": 12, "date": 18, "hours": 19, "utc": true}], "nice": false},
          "axis": null
        }
      },
      "layer": [
        {
          "layer": [
            {
              "data": {"name": "w"},
              "mark": {"type": "rule", "strokeWidth": 1},
              "encoding": {
                "y": {
                  "field": "l",
                  "type": "quantitative",
                  "scale": {"type": "log", "domain": [2731, 188700], "nice": false},
                  "axis": {
                    "orient": "right",
                    "title": null,
                    "values": [2775, 3300, 4000, 4800, 5800, 7000, 8500, 10500, 13000, 16000, 20000, 24000, 30000, 38000, 46000, 56000, 68000, 84000, 100000, 120000, 150000],
                    "labelExpr": "format(datum.value, ',.2f')",
                    "labelPadding": 6,
                    "labelOverlap": false,
                    "minExtent": 63,
                    "maxExtent": 63
                  }
                },
                "y2": {"field": "h"},
                "color": {"condition": {"test": "datum.c >= datum.o", "value": "#089981"}, "value": "#f23645"}
              }
            },
            {
              "data": {"name": "w"},
              "mark": {"type": "bar", "width": 2.6},
              "encoding": {
                "y": {"field": "o", "type": "quantitative"},
                "y2": {"field": "c"},
                "color": {"condition": {"test": "datum.c >= datum.o", "value": "#089981"}, "value": "#f23645"}
              }
            },
            {
              "data": {"name": "boxR"},
              "mark": {"type": "rect", "color": "#089981"},
              "encoding": {
                "x2": {"field": "d2"},
                "y": {"field": "lo", "type": "quantitative"},
                "y2": {"field": "hi"}
              }
            },
            {
              "data": {"name": "tagR"},
              "mark": {"type": "text", "color": "white", "fontSize": 9, "align": "center", "baseline": "middle"},
              "encoding": {
                "y": {"field": "p", "type": "quantitative"},
                "text": {"field": "s"}
              }
            }
          ]
        },
        {
          "layer": [
            {
              "data": {"name": "w"},
              "mark": {"type": "line", "color": "#ff5252", "strokeWidth": 1},
              "encoding": {
                "y": {
                  "field": "m",
                  "type": "quantitative",
                  "scale": {"domain": [-0.012, 0.054175], "nice": false, "zero": false},
                  "axis": {
                    "orient": "left",
                    "title": null,
                    "values": [-0.01, -0.005, 0, 0.005, 0.01, 0.015, 0.02, 0.025, 0.03, 0.035, 0.04, 0.045, 0.05],
                    "labelExpr": "format(datum.value, '.4f') + '%'",
                    "labelPadding": 5,
                    "labelOverlap": false,
                    "minExtent": 50,
                    "maxExtent": 50
                  }
                }
              }
            },
            {
              "data": {"name": "zero"},
              "mark": {"type": "line", "color": "#b2b5be", "strokeWidth": 1.5},
              "encoding": {"y": {"field": "z", "type": "quantitative"}}
            },
            {
              "data": {"name": "w"},
              "mark": {"type": "line", "color": "#1e5bff", "strokeWidth": 2.3},
              "encoding": {"y": {"field": "t", "type": "quantitative"}}
            },
            {
              "data": {"name": "hdr"},
              "mark": {"type": "text", "align": "left", "baseline": "middle", "fontSize": 8.5},
              "encoding": {
                "y": {"field": "v", "type": "quantitative"},
                "text": {"field": "s"},
                "color": {
                  "field": "k",
                  "type": "nominal",
                  "scale": {"domain": ["n", "g", "b", "r"], "range": ["#131722", "#089981", "#2962ff", "#f7525f"]},
                  "legend": null
                }
              }
            },
            {
              "data": {"name": "boxL"},
              "mark": {"type": "rect"},
              "encoding": {
                "x2": {"field": "d2"},
                "y": {"field": "lo", "type": "quantitative"},
                "y2": {"field": "hi"},
                "color": {"condition": {"test": "datum.k == 'b'", "value": "#2962ff"}, "value": "#f7777c"}
              }
            },
            {
              "data": {"name": "tagL"},
              "mark": {"type": "text", "color": "white", "fontSize": 8.5, "align": "center", "baseline": "middle"},
              "encoding": {
                "y": {"field": "v", "type": "quantitative"},
                "text": {"field": "s"}
              }
            }
          ]
        }
      ],
      "resolve": {"scale": {"y": "independent"}}
    },
    {
      "width": 1468,
      "height": 263,
      "encoding": {
        "x": {
          "field": "d",
          "type": "temporal",
          "scale": {"domain": [{"year": 2019, "month": 12, "date": 29, "hours": 19, "utc": true}, {"year": 2025, "month": 12, "date": 18, "hours": 19, "utc": true}], "nice": false},
          "axis": {
            "title": null,
            "values": [
              {"year": 2020, "month": 4, "date": 1, "utc": true}, {"year": 2020, "month": 7, "date": 1, "utc": true}, {"year": 2020, "month": 10, "date": 1, "utc": true},
              {"year": 2021, "month": 1, "date": 1, "utc": true}, {"year": 2021, "month": 4, "date": 1, "utc": true}, {"year": 2021, "month": 7, "date": 1, "utc": true}, {"year": 2021, "month": 10, "date": 1, "utc": true},
              {"year": 2022, "month": 1, "date": 1, "utc": true}, {"year": 2022, "month": 4, "date": 1, "utc": true}, {"year": 2022, "month": 7, "date": 1, "utc": true}, {"year": 2022, "month": 10, "date": 1, "utc": true},
              {"year": 2023, "month": 1, "date": 1, "utc": true}, {"year": 2023, "month": 4, "date": 1, "utc": true}, {"year": 2023, "month": 7, "date": 1, "utc": true}, {"year": 2023, "month": 10, "date": 1, "utc": true},
              {"year": 2024, "month": 1, "date": 1, "utc": true}, {"year": 2024, "month": 4, "date": 1, "utc": true}, {"year": 2024, "month": 7, "date": 1, "utc": true}, {"year": 2024, "month": 10, "date": 1, "utc": true},
              {"year": 2025, "month": 1, "date": 1, "utc": true}, {"year": 2025, "month": 4, "date": 1, "utc": true}, {"year": 2025, "month": 7, "date": 1, "utc": true}, {"year": 2025, "month": 10, "date": 1, "utc": true}
            ],
            "labelExpr": "utcmonth(datum.value) == 0 ? utcFormat(datum.value, '%Y') : utcFormat(datum.value, '%b')",
            "labelFontWeight": {"condition": {"test": "utcmonth(datum.value) == 0", "value": "bold"}, "value": "normal"},
            "labelPadding": 8,
            "labelOverlap": false
          }
        }
      },
      "layer": [
        {
          "data": {"name": "w"},
          "transform": [{"window": [{"op": "lag", "field": "e", "as": "pe"}], "sort": [{"field": "d"}]}],
          "mark": {"type": "bar", "width": 3.5},
          "encoding": {
            "y": {
              "field": "e",
              "type": "quantitative",
              "scale": {"domain": [-561, 2237], "nice": false},
              "axis": {
                "orient": "right",
                "title": null,
                "values": [-500, -250, 0, 250, 500, 750, 1000, 1250, 1500, 1750, 2000],
                "tickCount": 12,
                "labelExpr": "format(datum.value, ',') + '%'",
                "labelPadding": 6,
                "labelOverlap": false,
                "minExtent": 63,
                "maxExtent": 63
              }
            },
            "color": {
              "condition": [
                {"test": "datum.e >= 0 && datum.e >= datum.pe", "value": "#00ff00"},
                {"test": "datum.e >= 0", "value": "#aef5ae"},
                {"test": "datum.e <= datum.pe", "value": "#ff0000"}
              ],
              "value": "#ffb0b0"
            }
          }
        },
        {
          "data": {"name": "zero"},
          "mark": {"type": "line", "color": "#b2b5be", "strokeWidth": 1.2},
          "encoding": {
            "y": {
              "field": "z",
              "type": "quantitative",
              "axis": {
                "orient": "right",
                "title": null,
                "values": [-500, -250, 0, 250, 500, 750, 1000, 1250, 1500, 1750, 2000],
                "tickCount": 12,
                "labelExpr": "format(datum.value, ',') + '%'",
                "labelPadding": 6,
                "labelOverlap": false,
                "minExtent": 63,
                "maxExtent": 63
              }
            }
          }
        },
        {
          "data": {"name": "sep"},
          "mark": {"type": "rule", "color": "#e0e3eb", "strokeWidth": 1},
          "encoding": {"x2": {"field": "d2"}, "y": {"field": "y", "type": "quantitative"}}
        },
        {
          "data": {"name": "hdr2"},
          "mark": {"type": "text", "align": "left", "baseline": "middle", "fontSize": 8.5},
          "encoding": {
            "y": {"field": "e", "type": "quantitative"},
            "text": {"field": "s"},
            "color": {
              "field": "k",
              "type": "nominal",
              "scale": {"domain": ["n", "g"], "range": ["#131722", "#22cc22"]},
              "legend": null
            }
          }
        },
        {
          "data": {"name": "boxB"},
          "mark": {"type": "rect", "color": "#00ff00"},
          "encoding": {
            "x2": {"field": "d2"},
            "y": {"field": "lo", "type": "quantitative"},
            "y2": {"field": "hi"}
          }
        },
        {
          "data": {"name": "tagB"},
          "mark": {"type": "text", "color": "#131722", "fontSize": 9, "align": "center", "baseline": "middle"},
          "encoding": {
            "y": {"field": "e", "type": "quantitative"},
            "text": {"field": "s"}
          }
        }
      ]
    }
  ],
  "resolve": {"scale": {"y": "independent", "color": "independent"}}
}
